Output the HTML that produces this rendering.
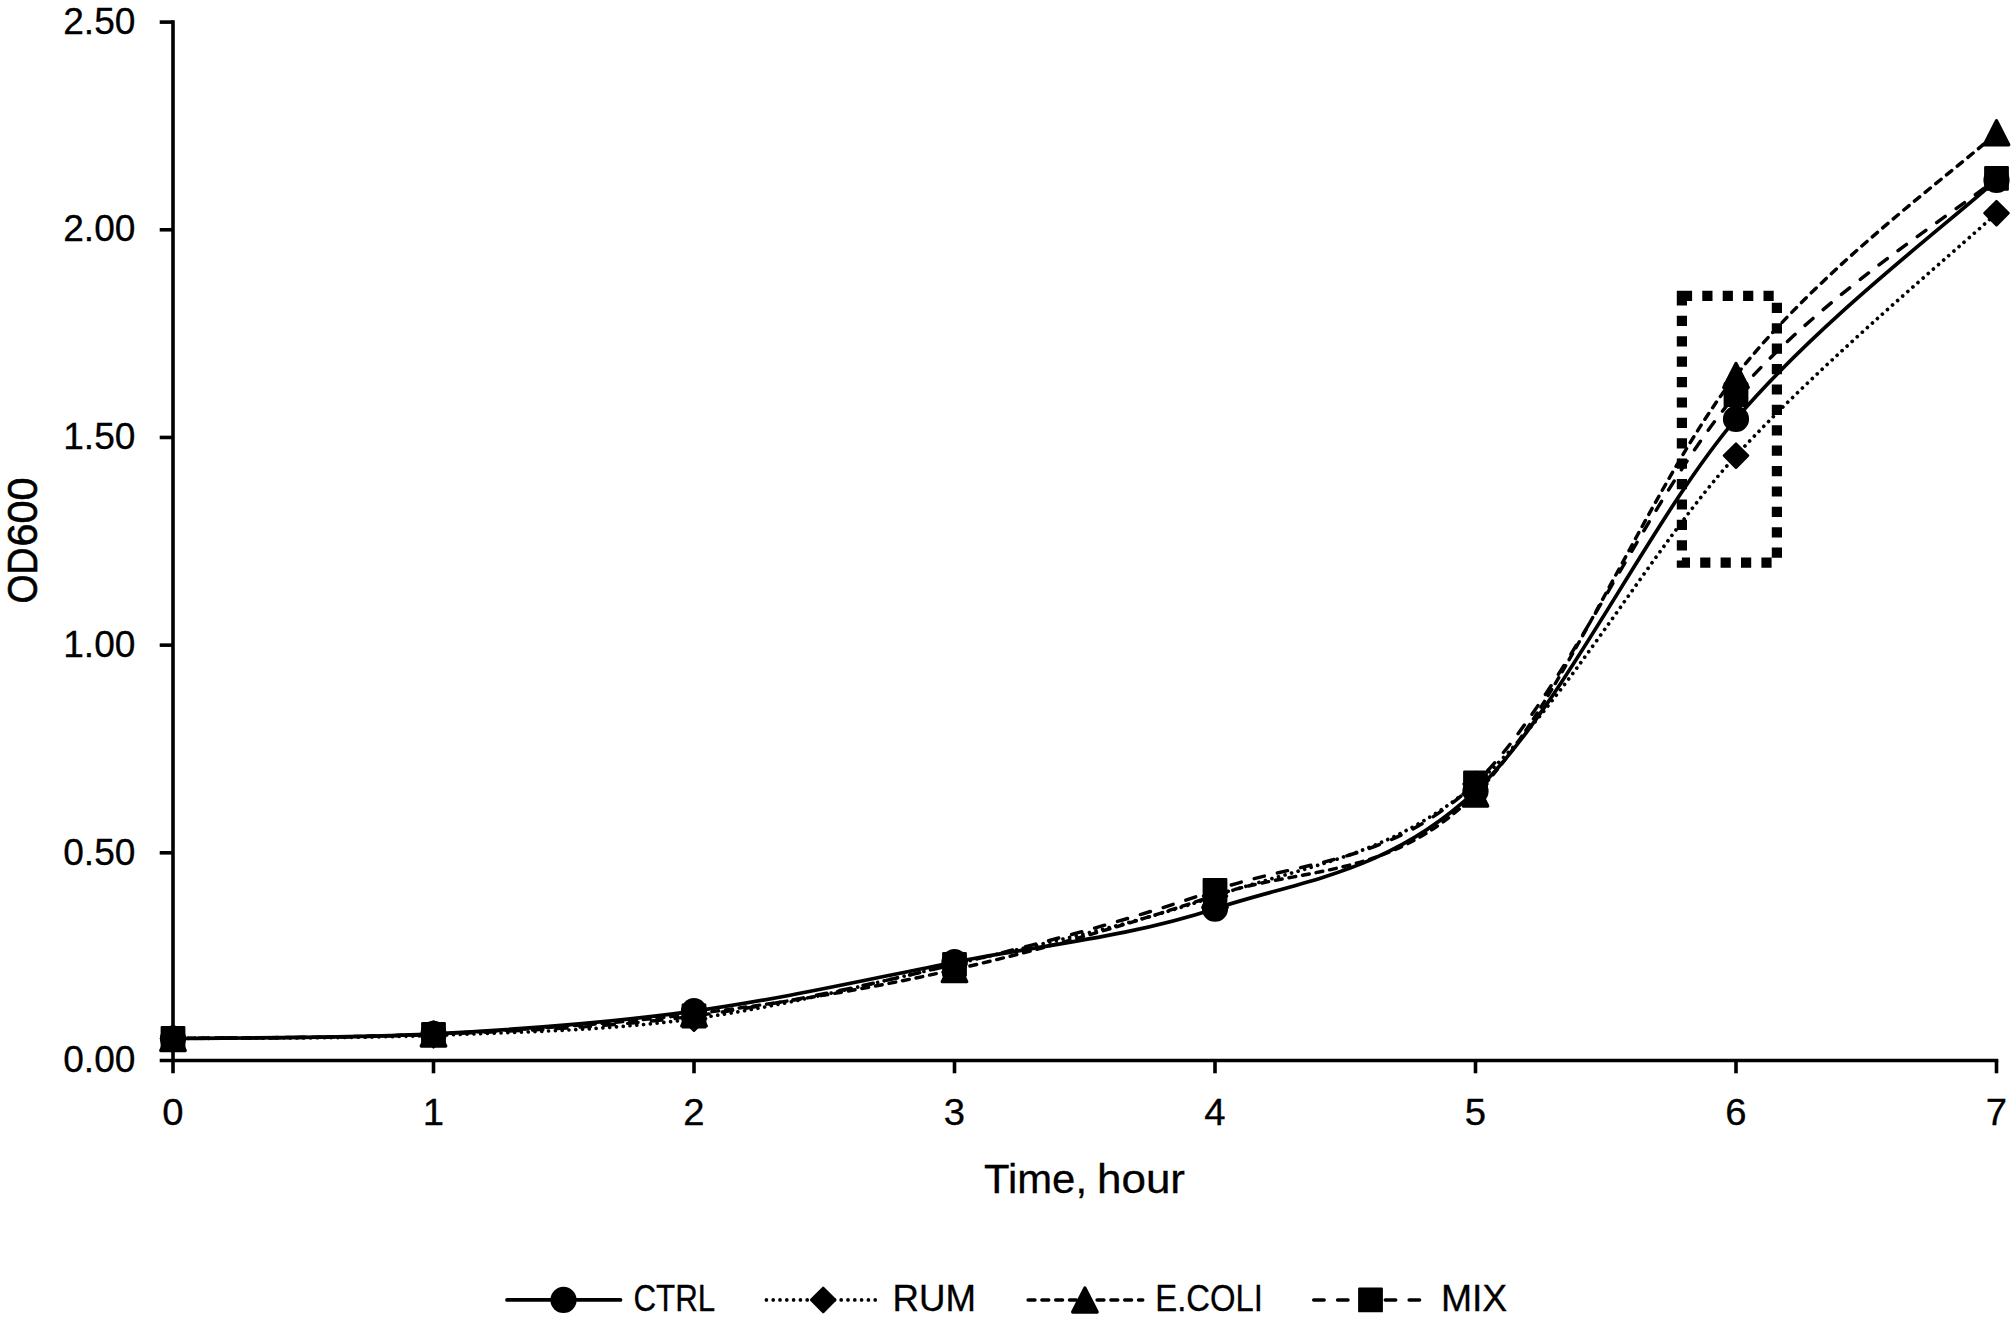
<!DOCTYPE html>
<html lang="en"><head><meta charset="utf-8"><title>Growth curve OD600</title>
<style>html,body{margin:0;padding:0;background:#fff}body{width:2011px;height:1324px;overflow:hidden}svg{display:block}text{font-family:"Liberation Sans",sans-serif;fill:#000;stroke:#000;stroke-width:0.3px}</style></head><body>
<svg width="2011" height="1324" viewBox="0 0 2011 1324">
<rect width="2011" height="1324" fill="#fff"/>
<g stroke="#000" stroke-width="3.6" fill="none" stroke-linecap="butt">
<path d="M173.00 20.30V1073.30"/>
<path d="M159.70 1060.50H1998.30"/>
<path d="M159.7 852.82H173.00"/>
<path d="M159.7 645.14H173.00"/>
<path d="M159.7 437.46H173.00"/>
<path d="M159.7 229.78H173.00"/>
<path d="M159.7 22.10H173.00"/>
<path d="M433.50 1060.50V1073.3"/>
<path d="M694.00 1060.50V1073.3"/>
<path d="M954.50 1060.50V1073.3"/>
<path d="M1215.00 1060.50V1073.3"/>
<path d="M1475.50 1060.50V1073.3"/>
<path d="M1736.00 1060.50V1073.3"/>
<path d="M1996.50 1060.50V1073.3"/>
</g>
<text x="135.5" y="1072.20" font-size="36" text-anchor="end" textLength="72.3" lengthAdjust="spacingAndGlyphs">0.00</text>
<text x="135.5" y="864.52" font-size="36" text-anchor="end" textLength="72.3" lengthAdjust="spacingAndGlyphs">0.50</text>
<text x="135.5" y="656.84" font-size="36" text-anchor="end" textLength="72.3" lengthAdjust="spacingAndGlyphs">1.00</text>
<text x="135.5" y="449.16" font-size="36" text-anchor="end" textLength="72.3" lengthAdjust="spacingAndGlyphs">1.50</text>
<text x="135.5" y="241.48" font-size="36" text-anchor="end" textLength="72.3" lengthAdjust="spacingAndGlyphs">2.00</text>
<text x="135.5" y="33.80" font-size="36" text-anchor="end" textLength="72.3" lengthAdjust="spacingAndGlyphs">2.50</text>
<text x="173.00" y="1124.8" font-size="36" text-anchor="middle" textLength="21.3" lengthAdjust="spacingAndGlyphs">0</text>
<text x="433.50" y="1124.8" font-size="36" text-anchor="middle" textLength="21.3" lengthAdjust="spacingAndGlyphs">1</text>
<text x="694.00" y="1124.8" font-size="36" text-anchor="middle" textLength="21.3" lengthAdjust="spacingAndGlyphs">2</text>
<text x="954.50" y="1124.8" font-size="36" text-anchor="middle" textLength="21.3" lengthAdjust="spacingAndGlyphs">3</text>
<text x="1215.00" y="1124.8" font-size="36" text-anchor="middle" textLength="21.3" lengthAdjust="spacingAndGlyphs">4</text>
<text x="1475.50" y="1124.8" font-size="36" text-anchor="middle" textLength="21.3" lengthAdjust="spacingAndGlyphs">5</text>
<text x="1736.00" y="1124.8" font-size="36" text-anchor="middle" textLength="21.3" lengthAdjust="spacingAndGlyphs">6</text>
<text x="1996.50" y="1124.8" font-size="36" text-anchor="middle" textLength="21.3" lengthAdjust="spacingAndGlyphs">7</text>
<text y="1192.8" font-size="40"><tspan x="984.0" textLength="103.0" lengthAdjust="spacingAndGlyphs">Time,</tspan> <tspan x="1097.0" textLength="88.0" lengthAdjust="spacingAndGlyphs">hour</tspan></text>
<text transform="translate(37.1 603.5) rotate(-90)" font-size="42.0" style="stroke-width:0.6px"><tspan x="0" textLength="56.0" lengthAdjust="spacingAndGlyphs">OD</tspan><tspan x="57.0" textLength="69.0" lengthAdjust="spacingAndGlyphs">600</tspan></text>
<rect x="1681.9" y="295.8" width="95" height="266.9" fill="none" stroke="#000" stroke-width="10.2" stroke-dasharray="10.2 10.2"/>
<path d="M173.00 1038.50 C216.42 1037.73 346.67 1038.46 433.50 1033.90 C520.33 1029.34 607.17 1023.10 694.00 1011.15 C780.83 999.20 867.67 979.28 954.50 962.20 C1041.33 945.12 1128.17 937.20 1215.00 908.70 C1301.83 880.20 1388.67 872.83 1475.50 791.20 C1562.33 709.57 1649.17 520.78 1736.00 418.90 C1822.83 317.02 1953.08 219.73 1996.50 179.90" fill="none" stroke="#000" stroke-linecap="round" stroke-linejoin="round" stroke-width="3.7"/>
<path d="M173.00 1038.50 C216.42 1037.98 346.67 1038.70 433.50 1035.40 C520.33 1032.10 607.17 1030.57 694.00 1018.70 C780.83 1006.83 867.67 984.62 954.50 964.20 C1041.33 943.78 1128.17 926.23 1215.00 896.20 C1301.83 866.17 1388.67 857.42 1475.50 784.00 C1562.33 710.58 1649.17 550.83 1736.00 455.70 C1822.83 360.57 1953.08 253.62 1996.50 213.20" fill="none" stroke="#000" stroke-linecap="round" stroke-linejoin="round" stroke-dasharray="0.01 6.79" stroke-dashoffset="-1.7" stroke-width="3.7"/>
<path d="M173.00 1038.50 C216.42 1037.75 346.67 1038.10 433.50 1034.00 C520.33 1029.90 607.17 1024.63 694.00 1013.90 C780.83 1003.17 867.67 989.35 954.50 969.60 C1041.33 949.85 1128.17 924.67 1215.00 895.40 C1301.83 866.13 1388.67 880.65 1475.50 794.00 C1562.33 707.35 1649.17 485.70 1736.00 375.50 C1822.83 265.30 1953.08 173.25 1996.50 132.80" fill="none" stroke="#000" stroke-linecap="round" stroke-linejoin="round" stroke-dasharray="6.85 6.95" stroke-dashoffset="-1.7" stroke-width="3.45"/>
<path d="M173.00 1038.50 C216.42 1037.82 346.67 1038.15 433.50 1034.40 C520.33 1030.65 607.17 1027.67 694.00 1016.00 C780.83 1004.33 867.67 985.35 954.50 964.40 C1041.33 943.45 1128.17 920.53 1215.00 890.30 C1301.83 860.07 1388.67 865.60 1475.50 783.00 C1562.33 700.40 1649.17 495.47 1736.00 394.70 C1822.83 293.93 1953.08 214.45 1996.50 178.40" fill="none" stroke="#000" stroke-linecap="round" stroke-linejoin="round" stroke-dasharray="10.45 13.41" stroke-dashoffset="-1.7" stroke-width="3.45"/>
<g fill="#000"><circle cx="173.00" cy="1038.50" r="13.1"/><circle cx="433.50" cy="1033.90" r="13.1"/><circle cx="694.00" cy="1011.15" r="13.1"/><circle cx="954.50" cy="962.20" r="13.1"/><circle cx="1215.00" cy="908.70" r="13.1"/><circle cx="1475.50" cy="791.20" r="13.1"/><circle cx="1736.00" cy="418.90" r="13.1"/><circle cx="1996.50" cy="179.90" r="13.1"/></g>
<g fill="#000"><path d="M173.00 1026.40L185.10 1038.50L173.00 1050.60L160.90 1038.50Z" stroke="#000" stroke-width="2.4" stroke-linejoin="round"/><path d="M433.50 1023.30L445.60 1035.40L433.50 1047.50L421.40 1035.40Z" stroke="#000" stroke-width="2.4" stroke-linejoin="round"/><path d="M694.00 1006.60L706.10 1018.70L694.00 1030.80L681.90 1018.70Z" stroke="#000" stroke-width="2.4" stroke-linejoin="round"/><path d="M954.50 952.10L966.60 964.20L954.50 976.30L942.40 964.20Z" stroke="#000" stroke-width="2.4" stroke-linejoin="round"/><path d="M1215.00 884.10L1227.10 896.20L1215.00 908.30L1202.90 896.20Z" stroke="#000" stroke-width="2.4" stroke-linejoin="round"/><path d="M1475.50 771.90L1487.60 784.00L1475.50 796.10L1463.40 784.00Z" stroke="#000" stroke-width="2.4" stroke-linejoin="round"/><path d="M1736.00 443.60L1748.10 455.70L1736.00 467.80L1723.90 455.70Z" stroke="#000" stroke-width="2.4" stroke-linejoin="round"/><path d="M1996.50 201.10L2008.60 213.20L1996.50 225.30L1984.40 213.20Z" stroke="#000" stroke-width="2.4" stroke-linejoin="round"/></g>
<g fill="#000"><path d="M173.00 1026.45L185.25 1050.55L160.75 1050.55Z" stroke="#000" stroke-width="3.3" stroke-linejoin="round"/><path d="M433.50 1021.95L445.75 1046.05L421.25 1046.05Z" stroke="#000" stroke-width="3.3" stroke-linejoin="round"/><path d="M694.00 1001.85L706.25 1025.95L681.75 1025.95Z" stroke="#000" stroke-width="3.3" stroke-linejoin="round"/><path d="M954.50 957.55L966.75 981.65L942.25 981.65Z" stroke="#000" stroke-width="3.3" stroke-linejoin="round"/><path d="M1215.00 883.35L1227.25 907.45L1202.75 907.45Z" stroke="#000" stroke-width="3.3" stroke-linejoin="round"/><path d="M1475.50 781.95L1487.75 806.05L1463.25 806.05Z" stroke="#000" stroke-width="3.3" stroke-linejoin="round"/><path d="M1736.00 363.45L1748.25 387.55L1723.75 387.55Z" stroke="#000" stroke-width="3.3" stroke-linejoin="round"/><path d="M1996.50 120.75L2008.75 144.85L1984.25 144.85Z" stroke="#000" stroke-width="3.3" stroke-linejoin="round"/></g>
<g fill="#000"><rect x="161.80" y="1027.30" width="22.40" height="22.40" stroke="#000" stroke-width="2.4" stroke-linejoin="round"/><rect x="422.30" y="1023.20" width="22.40" height="22.40" stroke="#000" stroke-width="2.4" stroke-linejoin="round"/><rect x="682.80" y="1004.80" width="22.40" height="22.40" stroke="#000" stroke-width="2.4" stroke-linejoin="round"/><rect x="943.30" y="953.20" width="22.40" height="22.40" stroke="#000" stroke-width="2.4" stroke-linejoin="round"/><rect x="1203.80" y="879.10" width="22.40" height="22.40" stroke="#000" stroke-width="2.4" stroke-linejoin="round"/><rect x="1464.30" y="771.80" width="22.40" height="22.40" stroke="#000" stroke-width="2.4" stroke-linejoin="round"/><rect x="1724.80" y="383.50" width="22.40" height="22.40" stroke="#000" stroke-width="2.4" stroke-linejoin="round"/><rect x="1985.30" y="167.20" width="22.40" height="22.40" stroke="#000" stroke-width="2.4" stroke-linejoin="round"/></g>
<path d="M507.00 1299.95H620.50" fill="none" stroke="#000" stroke-linecap="round" stroke-width="3.7"/>
<g fill="#000"><circle cx="563.50" cy="1299.95" r="13.1"/></g>
<text x="633.40" y="1311" font-size="36" textLength="81.8" lengthAdjust="spacingAndGlyphs">CTRL</text>
<path d="M764.70 1299.95H876.50" fill="none" stroke="#000" stroke-linecap="round" stroke-dasharray="0.01 6.79" stroke-dashoffset="-1.7" stroke-width="3.7"/>
<g fill="#000"><path d="M823.20 1287.85L835.30 1299.95L823.20 1312.05L811.10 1299.95Z" stroke="#000" stroke-width="2.4" stroke-linejoin="round"/></g>
<text x="892.60" y="1311" font-size="36" textLength="83.4" lengthAdjust="spacingAndGlyphs">RUM</text>
<path d="M1026.40 1299.95H1142.75" fill="none" stroke="#000" stroke-linecap="round" stroke-dasharray="6.85 6.95" stroke-dashoffset="-1.7" stroke-width="3.45"/>
<g fill="#000"><path d="M1084.90 1287.90L1097.15 1312.00L1072.65 1312.00Z" stroke="#000" stroke-width="3.3" stroke-linejoin="round"/></g>
<text x="1155.30" y="1311" font-size="36" textLength="107.6" lengthAdjust="spacingAndGlyphs">E.COLI</text>
<path d="M1312.00 1299.95H1429.00" fill="none" stroke="#000" stroke-linecap="round" stroke-dasharray="10.45 13.41" stroke-dashoffset="-1.7" stroke-width="3.45"/>
<g fill="#000"><rect x="1359.30" y="1288.75" width="22.40" height="22.40" stroke="#000" stroke-width="2.4" stroke-linejoin="round"/></g>
<text x="1440.90" y="1311" font-size="36" textLength="66.4" lengthAdjust="spacingAndGlyphs">MIX</text>
</svg></body></html>
